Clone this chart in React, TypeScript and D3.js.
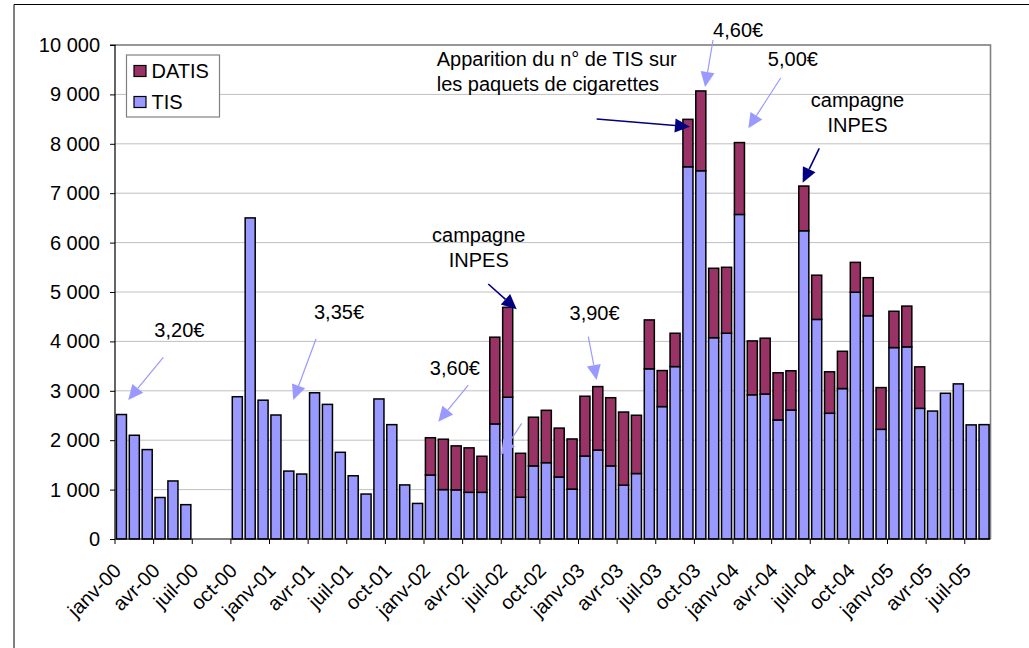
import React, { useRef, useEffect } from 'react';
import * as d3 from 'd3';

// monthly counts, janv-00 .. août-05
const monthNames = ['janv', 'févr', 'mars', 'avr', 'mai', 'juin', 'juil', 'août', 'sept', 'oct', 'nov', 'déc'];
const years = ['00', '01', '02', '03', '04', '05'];
const monthCount = 68;

const tisValues = [
  2520, 2100, 1810, 840, 1175, 695, 0, 0, 0, 2880, 6500, 2810,
  2510, 1375, 1315, 2960, 2725, 1755, 1280, 910, 2835, 2315, 1095, 720,
  1295, 1000, 995, 945, 945, 2330, 2870, 845, 1480, 1545, 1255, 1010,
  1680, 1800, 1480, 1090, 1325, 3445, 2680, 3490, 7535, 7455, 4075, 4165,
  6570, 2920, 2935, 2410, 2610, 6240, 4445, 2545, 3045, 4995, 4520, 2220,
  3875, 3890, 2645, 2590, 2950, 3140, 2310, 2315,
];

const datisValues = [
  0, 0, 0, 0, 0, 0, 0, 0, 0, 0, 0, 0,
  0, 0, 0, 0, 0, 0, 0, 0, 0, 0, 0, 0,
  755, 1020, 890, 900, 730, 1755, 1820, 890, 985, 1060, 990, 1015,
  1210, 1285, 1380, 1480, 1180, 990, 730, 675, 960, 1615, 1405, 1335,
  1455, 1090, 1130, 955, 795, 905, 895, 840, 755, 605, 770, 845,
  735, 825, 840, 0, 0, 0, 0, 0,
];

const yTicks = [0, 1000, 2000, 3000, 4000, 5000, 6000, 7000, 8000, 9000, 10000];

const seriesKeys = ['TIS', 'DATIS'];
const seriesColors: Record<string, string> = { TIS: '#9999FF', DATIS: '#993366' };

// annotations in (month position, value) units
const LIGHT = '#9999FF';
const NAVY = '#000080';
const notes = [
  { lines: ['3,20€'], m: 5.0, v: 4095 },
  { lines: ['3,35€'], m: 17.4, v: 4453 },
  { lines: ['3,60€'], m: 26.4, v: 3320 },
  { lines: ['campagne', 'INPES'], m: 28.25, v: 6006 },
  { lines: ['3,90€'], m: 37.25, v: 4433 },
  { lines: ['4,60€'], m: 48.4, v: 10162 },
  { lines: ['5,00€'], m: 52.65, v: 9581 },
  { lines: ['campagne', 'INPES'], m: 57.67, v: 8745 },
];
const leftNote = { lines: ['Apparition du n° de TIS sur', 'les paquets de cigarettes'], m: 24.99, v: 9581 };
const arrows = [
  { from: [3.75, 3678], to: [1.03, 2814], color: LIGHT },
  { from: [15.61, 4049], to: [13.85, 2814], color: LIGHT },
  { from: [27.44, 3117], to: [25.11, 2374], color: LIGHT },
  { from: [31.59, 2342], to: [29.98, 1700], color: LIGHT },
  { from: [28.99, 5162], to: [31.2, 4650], color: NAVY },
  { from: [36.76, 4095], to: [37.41, 3219], color: LIGHT },
  { from: [37.41, 8502], to: [44.66, 8346], color: NAVY },
  { from: [46.45, 10101], to: [45.83, 9150], color: LIGHT },
  { from: [51.7, 9332], to: [49.19, 8314], color: LIGHT },
  { from: [54.7, 7909], to: [53.41, 7213], color: NAVY },
];

export default function App() {
  const svgRef = useRef<SVGSVGElement>(null);

  useEffect(() => {
    if (!svgRef.current) return;
    const svg = d3.select(svgRef.current);
    svg.selectAll('*').remove();

    const width = 1029;
    const height = 648;
    const left = 115, right = 990.5, top = 45, bottom = 539;
    const font = '"Liberation Sans", Arial, sans-serif';
    const fontSize = '20px';

    const categories: string[] = [];
    for (let i = 0; i < monthCount; i++) {
      categories.push(`${monthNames[i % 12]}-${years[Math.floor(i / 12)]}`);
    }
    const table = categories.map((c, i) => ({ month: c, TIS: tisValues[i], DATIS: datisValues[i] }));

    const x = d3.scaleBand().domain(categories).range([left, right]).paddingInner(0.22).paddingOuter(0.11);
    const y = d3.scaleLinear().domain([0, 10000]).range([bottom, top]);
    const xm = d3.scaleLinear().domain([0, monthCount]).range([left, right]);

    const fr = d3.formatLocale({ decimal: ',', thousands: '\u00a0', grouping: [3], currency: ['', '€'] });
    const fmt = fr.format(',');

    svg.attr('width', width).attr('height', height).style('font-family', font);
    svg.append('rect').attr('width', width).attr('height', height).attr('fill', '#fff');

    // outer frame
    svg.append('path').attr('d', `M14,${height} V4.5 H${width}`).attr('fill', 'none').attr('stroke', '#000').attr('stroke-width', 1);

    // gridlines
    svg.append('g').selectAll('line').data(yTicks.slice(1)).enter().append('line')
      .attr('x1', left).attr('x2', right)
      .attr('y1', d => y(d)).attr('y2', d => y(d))
      .attr('stroke', '#c0c0c0').attr('stroke-width', 1);

    // plot border top / right
    svg.append('path').attr('d', `M${left},${top} H${right} V${bottom}`)
      .attr('fill', 'none').attr('stroke', '#808080').attr('stroke-width', 1.6);

    // stacked bars
    const stack = d3.stack<any>().keys(seriesKeys)(table);
    svg.append('g').selectAll('g').data(stack).enter().append('g')
      .attr('fill', d => seriesColors[d.key])
      .selectAll('rect')
      .data(d => d.filter(p => p[1] - p[0] > 0))
      .enter().append('rect')
      .attr('x', d => x(d.data.month) as number)
      .attr('width', x.bandwidth())
      .attr('y', d => y(d[1]))
      .attr('height', d => y(d[0]) - y(d[1]))
      .attr('stroke', '#000').attr('stroke-width', 1.5);

    // y axis
    svg.append('g')
      .attr('transform', `translate(${left},0)`)
      .call(d3.axisLeft(y).tickValues(yTicks).tickFormat(d => fmt(d as number)).tickSize(5).tickPadding(10))
      .call(g => g.select('.domain').attr('stroke', '#000').attr('stroke-width', 1.2).attr('d', `M-5,${top}H0V${bottom}`))
      .call(g => g.selectAll('.tick line').attr('stroke', '#000'))
      .call(g => g.selectAll('text').style('font-family', font).style('font-size', fontSize).attr('fill', '#000'));

    // x axis line + boundary ticks every 3 months
    const boundaries = d3.range(0, monthCount, 3).map(i => xm(i));
    const xa = svg.append('g');
    xa.append('line').attr('x1', left).attr('x2', right).attr('y1', bottom).attr('y2', bottom)
      .attr('stroke', '#000').attr('stroke-width', 1.2);
    xa.selectAll('.bt').data(boundaries).enter().append('line')
      .attr('x1', d => d).attr('x2', d => d).attr('y1', bottom).attr('y2', bottom + 5)
      .attr('stroke', '#000');

    // x labels every 3rd month, rotated
    svg.append('g')
      .attr('transform', `translate(0,${bottom})`)
      .call(d3.axisBottom(x).tickValues(categories.filter((_, i) => i % 3 === 0)).tickSize(0))
      .call(g => g.select('.domain').remove())
      .call(g => g.selectAll('text')
        .attr('x', 0).attr('y', 0).attr('dy', 0)
        .attr('text-anchor', 'end')
        .attr('transform', 'translate(1,33) rotate(-45)')
        .style('font-family', font).style('font-size', fontSize).attr('fill', '#000'));

    // legend
    const lg = svg.append('g');
    lg.append('rect').attr('x', 126.5).attr('y', 55).attr('width', 93).attr('height', 62)
      .attr('fill', '#fff').attr('stroke', '#808080').attr('stroke-width', 1.2);
    ['DATIS', 'TIS'].forEach((k, i) => {
      lg.append('rect').attr('x', 134).attr('y', 65.5 + i * 31).attr('width', 12).attr('height', 11)
        .attr('fill', seriesColors[k]).attr('stroke', '#000').attr('stroke-width', 1.2);
      lg.append('text').attr('x', 151.5).attr('y', 77.5 + i * 31).text(k)
        .style('font-size', fontSize).attr('fill', '#000');
    });

    // annotation texts
    const ann = svg.append('g').style('font-size', fontSize).attr('fill', '#000');
    notes.forEach(n => {
      const t = ann.append('text').attr('text-anchor', 'middle');
      n.lines.forEach((l, i) => {
        t.append('tspan').attr('x', xm(n.m)).attr('y', y(n.v) + i * 25).text(l);
      });
    });
    const lt = ann.append('text').attr('text-anchor', 'start');
    leftNote.lines.forEach((l, i) => {
      lt.append('tspan').attr('x', xm(leftNote.m)).attr('y', y(leftNote.v) + i * 25.3).text(l);
    });

    // arrows
    const ag = svg.append('g');
    arrows.forEach(a => {
      const x1 = xm(a.from[0]), y1 = y(a.from[1]);
      const x2 = xm(a.to[0]), y2 = y(a.to[1]);
      const len = Math.hypot(x2 - x1, y2 - y1);
      const ux = (x2 - x1) / len, uy = (y2 - y1) / len;
      const hl = 15, hw = 7;
      const bx = x2 - ux * hl, by = y2 - uy * hl;
      ag.append('line').attr('x1', x1).attr('y1', y1).attr('x2', bx).attr('y2', by)
        .attr('stroke', a.color).attr('stroke-width', a.color === NAVY ? 1.6 : 1.2);
      ag.append('path')
        .attr('d', `M${x2},${y2}L${bx - uy * hw},${by + ux * hw}L${bx + uy * hw},${by - ux * hw}Z`)
        .attr('fill', a.color);
    });
  }, []);

  return (
    <div style={{ position: 'absolute', left: 0, top: 0, width: 1029, height: 648 }}>
      <svg ref={svgRef} style={{ display: 'block' }} />
    </div>
  );
}
